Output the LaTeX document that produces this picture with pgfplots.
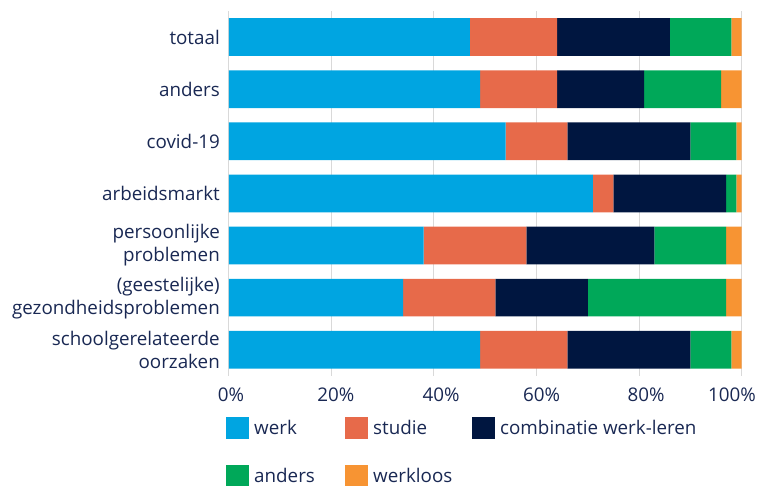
\documentclass[border=0pt]{standalone}
\usepackage{fontspec}
\setmainfont{Open Sans}
\usepackage{pgfplots}
\pgfplotsset{compat=1.18}
\definecolor{cwerk}{RGB}{0,165,225}
\definecolor{cstudie}{RGB}{231,106,74}
\definecolor{ccomb}{RGB}{0,22,64}
\definecolor{canders}{RGB}{0,168,89}
\definecolor{cwerkloos}{RGB}{247,148,51}
\definecolor{ctext}{RGB}{25,40,83}
\definecolor{cgrid}{RGB}{217,217,217}
\begin{document}
\begin{tikzpicture}
\useasboundingbox (-229pt,-109.2pt) rectangle (529pt,375.8pt);
\begin{axis}[
  at={(0pt,0pt)}, anchor=south west,
  scale only axis, width=512.5pt, height=364.8pt,
  xbar stacked, bar width=37.7pt,
  xmin=0, xmax=100, ymin=-0.5, ymax=6.5, y dir=reverse,
  xtick={0,20,40,60,80,100},
  xticklabels={{\hspace*{4pt}0\%},{\hspace*{8.6pt}20\%},{\hspace*{14pt}40\%},{\hspace*{10pt}60\%},{\hspace*{14pt}80\%},{100\%\hspace*{19pt}}},
  ytick={0,1,2,3,4,5,6},
  yticklabels={totaal,anders,covid-19,arbeidsmarkt,persoonlijke\\problemen,(geestelijke)\\gezondheidsproblemen,schoolgerelateerde\\oorzaken},
  axis line style={draw=none},
  major tick length=0pt,
  xmajorgrids, grid style={cgrid, line width=1pt},
  tick label style={font=\fontsize{18.8}{23}\selectfont, text=ctext},
  yticklabel style={align=right, inner sep=0pt, xshift=-9pt},
  xticklabel style={inner sep=0pt, yshift=-12pt},
  legend cell align=left,
  legend columns=3,
  legend style={at={(0,0)}, anchor=north west, xshift=-6pt, yshift=-39pt,
    draw=none, fill=none, row sep=26pt,
    font=\fontsize{18.8}{23}\selectfont, text=ctext,
    /tikz/every odd column/.append style={column sep=3pt}},
]
\addplot+[fill=cwerk, draw=none, legend image code/.code={\fill[cwerk] (0pt,-11pt) rectangle (23pt,11pt);}] coordinates {(47,0) (49,1) (54,2) (71,3) (38,4) (34,5) (49,6)};
\addplot+[fill=cstudie, draw=none, legend image code/.code={\fill[cstudie] (0pt,-11pt) rectangle (23pt,11pt);}] coordinates {(17,0) (15,1) (12,2) (4,3) (20,4) (18,5) (17,6)};
\addplot+[fill=ccomb, draw=none, legend image code/.code={\fill[ccomb] (0pt,-11pt) rectangle (23pt,11pt);}] coordinates {(22,0) (17,1) (24,2) (22,3) (25,4) (18,5) (24,6)};
\addplot+[fill=canders, draw=none, legend image code/.code={\fill[canders] (0pt,-11pt) rectangle (23pt,11pt);}] coordinates {(12,0) (15,1) (9,2) (2,3) (14,4) (27,5) (8,6)};
\addplot+[fill=cwerkloos, draw=none, legend image code/.code={\fill[cwerkloos] (0pt,-11pt) rectangle (23pt,11pt);}] coordinates {(2,0) (4,1) (1,2) (1,3) (3,4) (3,5) (2,6)};
\legend{\makebox[89pt][l]{werk},\makebox[97pt][l]{studie},combinatie werk-leren,anders,werkloos}
\end{axis}
\end{tikzpicture}
\end{document}
